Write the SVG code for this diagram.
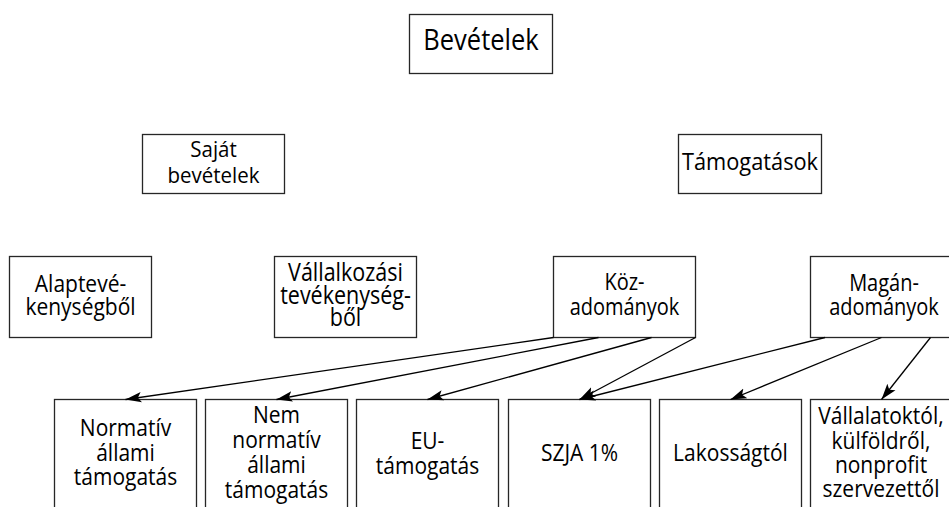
<svg xmlns="http://www.w3.org/2000/svg" width="949" height="507" viewBox="0 0 949 507">
<style>
  .box { fill: #fff; stroke: #262626; stroke-width: 1.3; }
  .t { font-family: "Open Sans", "Noto Sans", "DejaVu Sans", sans-serif; text-anchor: middle; fill: #000; }
  .md { font-weight: 500; }
  .conn line { stroke: #000; stroke-width: 1.3; fill: none; marker-end: url(#arr); }
</style>
<defs>
  <marker id="arr" markerWidth="18" markerHeight="12" refX="16" refY="6" orient="auto" markerUnits="userSpaceOnUse">
    <path d="M0,0.8 L16,6 L0,11.2 L3.5,6 Z" fill="#000"/>
  </marker>
</defs>
<rect width="949" height="507" fill="#fff"/>

<g id="bevetelek">
  <rect class="box" x="409.5" y="14.5" width="143" height="59"/>
  <text class="t" font-size="25.5" transform="translate(481,50) scale(1,1.14)">Bevételek</text>
</g>

<g id="sajat">
  <rect class="box" x="142.5" y="134.5" width="142" height="59"/>
  <text class="t" font-size="20.5" transform="translate(213.5,156.7) scale(1,1.1)">Saját</text>
  <text class="t" font-size="20.5" transform="translate(213.5,183.3) scale(1,1.1)">bevételek</text>
</g>

<g id="tamogatasok">
  <rect class="box" x="678.5" y="134.5" width="143" height="59"/>
  <text class="t" font-size="21.8" transform="translate(750,170) scale(1,1.1)">Támogatások</text>
</g>

<g id="alaptev">
  <rect class="box" x="9.5" y="256.5" width="142" height="81"/>
  <text class="t md" font-size="21" transform="translate(80.5,292) scale(1,1.16)">Alaptevé-</text>
  <text class="t md" font-size="21" transform="translate(80.5,315) scale(1,1.16)">kenységből</text>
</g>

<g id="vallalkozasi">
  <rect class="box" x="274.5" y="256.5" width="142" height="81"/>
  <text class="t md" font-size="21.5" transform="translate(345.5,280.5) scale(1,1.16)">Vállalkozási</text>
  <text class="t md" font-size="21.5" transform="translate(345.5,303.5) scale(1,1.16)">tevékenység-</text>
  <text class="t md" font-size="21.5" transform="translate(345.5,325.5) scale(1,1.16)">ből</text>
</g>

<g id="koz">
  <rect class="box" x="553.5" y="256.5" width="142" height="81"/>
  <text class="t md" font-size="20" transform="translate(624.5,290) scale(1,1.16)">Köz-</text>
  <text class="t md" font-size="20" transform="translate(624.5,315) scale(1,1.16)">adományok</text>
</g>

<g id="magan">
  <rect class="box" x="810.5" y="256.5" width="142" height="81"/>
  <text class="t md" font-size="20" transform="translate(884,291) scale(1,1.16)">Magán-</text>
  <text class="t md" font-size="20" transform="translate(884,315) scale(1,1.16)">adományok</text>
</g>

<g id="normativ">
  <rect class="box" x="54.5" y="399.5" width="142" height="120"/>
  <text class="t" font-size="21" transform="translate(125.5,436) scale(1,1.1)">Normatív</text>
  <text class="t" font-size="21" transform="translate(125.5,460.5) scale(1,1.1)">állami</text>
  <text class="t" font-size="21" transform="translate(125.5,485) scale(1,1.1)">támogatás</text>
</g>

<g id="nemnormativ">
  <rect class="box" x="205.5" y="399.5" width="142" height="120"/>
  <text class="t" font-size="21" transform="translate(276.5,423) scale(1,1.1)">Nem</text>
  <text class="t" font-size="21" transform="translate(276.5,448) scale(1,1.1)">normatív</text>
  <text class="t" font-size="21" transform="translate(276.5,473) scale(1,1.1)">állami</text>
  <text class="t" font-size="21" transform="translate(276.5,497.5) scale(1,1.1)">támogatás</text>
</g>

<g id="eu">
  <rect class="box" x="356.5" y="399.5" width="142" height="120"/>
  <text class="t" font-size="21" transform="translate(427.5,449) scale(1,1.1)">EU-</text>
  <text class="t" font-size="21" transform="translate(427.5,474) scale(1,1.1)">támogatás</text>
</g>

<g id="szja">
  <rect class="box" x="508.5" y="399.5" width="142" height="120"/>
  <text class="t" font-size="21" transform="translate(579.5,461) scale(1,1.1)">SZJA 1%</text>
</g>

<g id="lakossag">
  <rect class="box" x="659.5" y="399.5" width="142" height="120"/>
  <text class="t" font-size="21" transform="translate(730.5,461) scale(1,1.1)">Lakosságtól</text>
</g>

<g id="vallalatok">
  <rect class="box" x="810.5" y="399.5" width="142" height="120"/>
  <text class="t" font-size="21" transform="translate(881,424) scale(1,1.1)">Vállalatoktól,</text>
  <text class="t" font-size="21" transform="translate(881,448.5) scale(1,1.1)">külföldről,</text>
  <text class="t" font-size="21" transform="translate(881,473) scale(1,1.1)">nonprofit</text>
  <text class="t" font-size="21" transform="translate(881,497) scale(1,1.1)">szervezettől</text>
</g>

<g id="connectors" class="conn">
  <line x1="553.5" y1="337.5" x2="125.5" y2="399.5"/>
  <line x1="598.5" y1="337.5" x2="276.5" y2="399.5"/>
  <line x1="651.5" y1="337.5" x2="427.5" y2="399.5"/>
  <line x1="695.5" y1="337.5" x2="579.5" y2="399.5"/>
  <line x1="825" y1="337.5" x2="579.5" y2="399.5"/>
  <line x1="881.5" y1="337.5" x2="730.5" y2="399.5"/>
  <line x1="930.5" y1="337.5" x2="881.5" y2="399.5"/>
</g>
</svg>
